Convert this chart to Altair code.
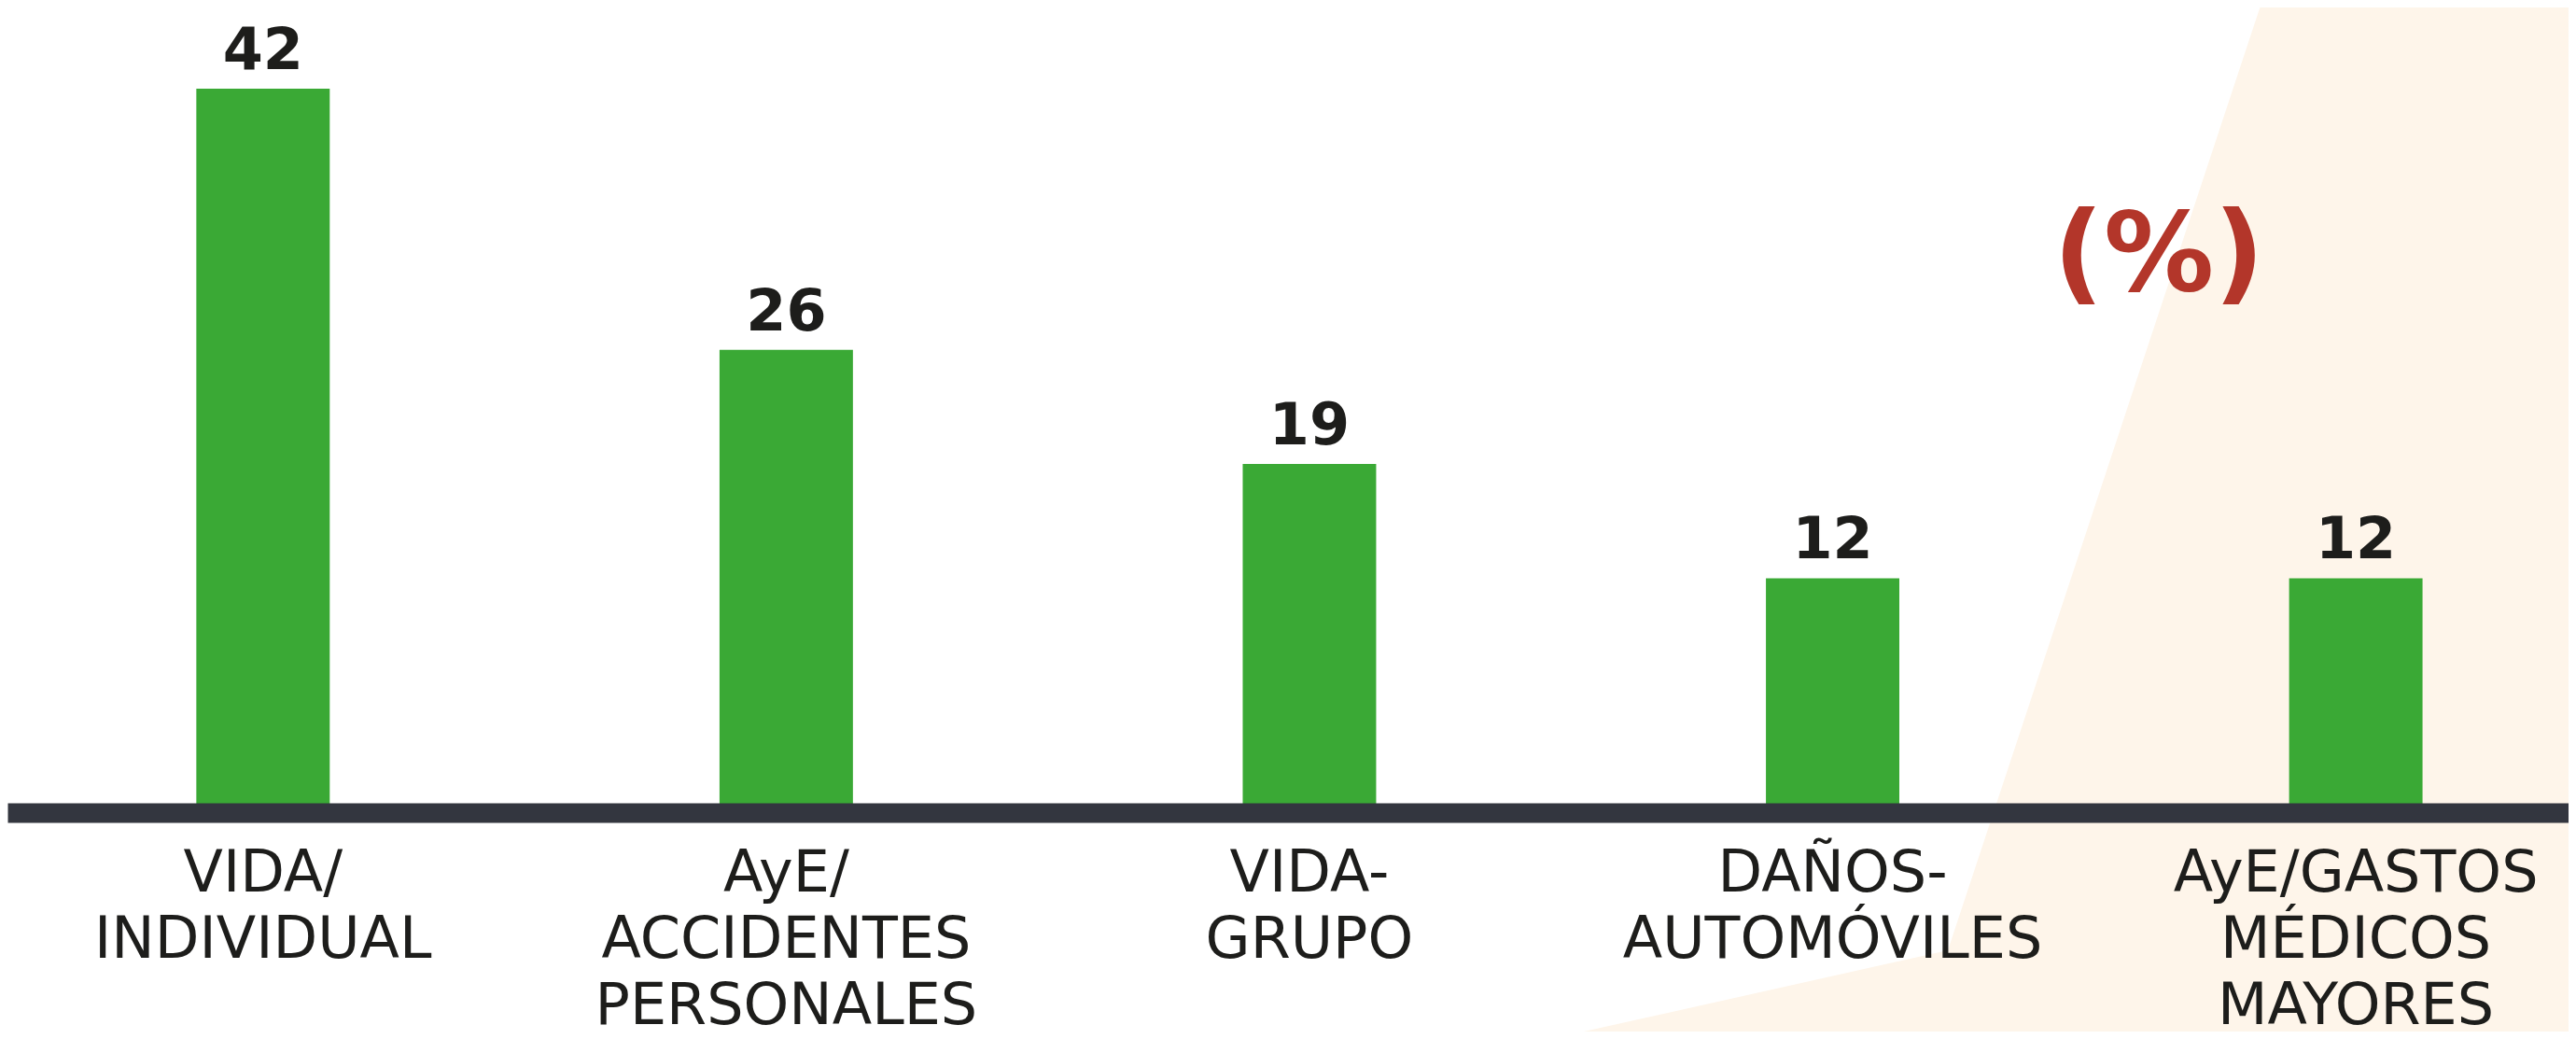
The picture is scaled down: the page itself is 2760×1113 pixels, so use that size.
import altair as alt
import pandas as pd

# ---- data ----
categorias = [
    "VIDA/\nINDIVIDUAL",
    "AyE/\nACCIDENTES\nPERSONALES",
    "VIDA-\nGRUPO",
    "DAÑOS-\nAUTOMÓVILES",
    "AyE/GASTOS\nMÉDICOS\nMAYORES",
]
valores = [42, 26, 19, 12, 12]

# ---- layout / style ----
W = 2744
H_PLOT = 862.5
H_TOTAL = 1097
Y_MIN, Y_MAX = -2.36, 46.98
VERDE = "#3AA935"
NEGRO = "#1D1D1B"
LINEA = "#33363F"
ROJO = "#B3362A"
CREMA = "#FEF5EA"
FUENTE = "DejaVu Sans"

# decorative background wedge (page pixels)
fondo = pd.DataFrame({"py": [0, 1018, 1113], "px": [2424, 2087, 1661], "px2": [2760, 2760, 2760]})

df = pd.DataFrame({"ramo": categorias, "pct": valores})

area = alt.Chart(fondo).mark_area(orient="horizontal", color=CREMA, interpolate="linear").encode(
    y=alt.Y("py:Q", scale=alt.Scale(domain=[8, 8 + H_PLOT], reverse=True, nice=False, zero=False), axis=None),
    x=alt.X("px:Q", scale=alt.Scale(domain=[8, 8 + W], nice=False, zero=False), axis=None),
    x2="px2:Q",
)

base = alt.Chart(df).encode(
    x=alt.X(
        "ramo:N",
        sort=categorias,
        title=None,
        scale=alt.Scale(paddingInner=0.745, paddingOuter=0.32, align=0.564),
        axis=alt.Axis(
            labelExpr="split(datum.value, '\\n')",
            labelFont=FUENTE,
            labelFontSize=62,
            labelColor=NEGRO,
            labelLineHeight=71,
            labelPadding=35,
            labelLimit=0,
            labelOverlap=False,
            labelAngle=0,
            ticks=False,
            grid=False,
            domainColor=LINEA,
            domainWidth=21,
            domainCap="butt",
            zindex=1,
        ),
    )
)

yscale = alt.Scale(domain=[Y_MIN, Y_MAX], nice=False, zero=False)

bars = base.mark_bar(color=VERDE).encode(
    y=alt.Y("pct:Q", scale=yscale, axis=None),
    y2=alt.datum(Y_MIN),
)

labels = base.mark_text(
    font=FUENTE, fontWeight="bold", fontSize=62, color=NEGRO, baseline="alphabetic", dy=-21
).encode(
    y=alt.Y("pct:Q", scale=yscale, axis=None),
    text=alt.Text("pct:Q"),
)

pct_text = alt.Chart(pd.DataFrame({"t": ["(%)"]})).mark_text(
    font=FUENTE, fontWeight="bold", fontSize=118, color=ROJO, align="center", baseline="middle"
).encode(x=alt.value(2305), y=alt.value(268), text="t:N")

chart = (
    alt.layer(area, alt.layer(bars, labels), pct_text)
    .resolve_scale(x="independent", y="independent")
    .properties(
        width=W,
        height=H_PLOT,
        padding={"left": 0, "right": 0, "top": 0, "bottom": H_TOTAL - H_PLOT},
        autosize=alt.AutoSizeParams(type="none"),
        background="white",
    )
    .configure_view(stroke=None)
)

chart.save("out.html", embed_options={"renderer": "svg", "actions": False})
